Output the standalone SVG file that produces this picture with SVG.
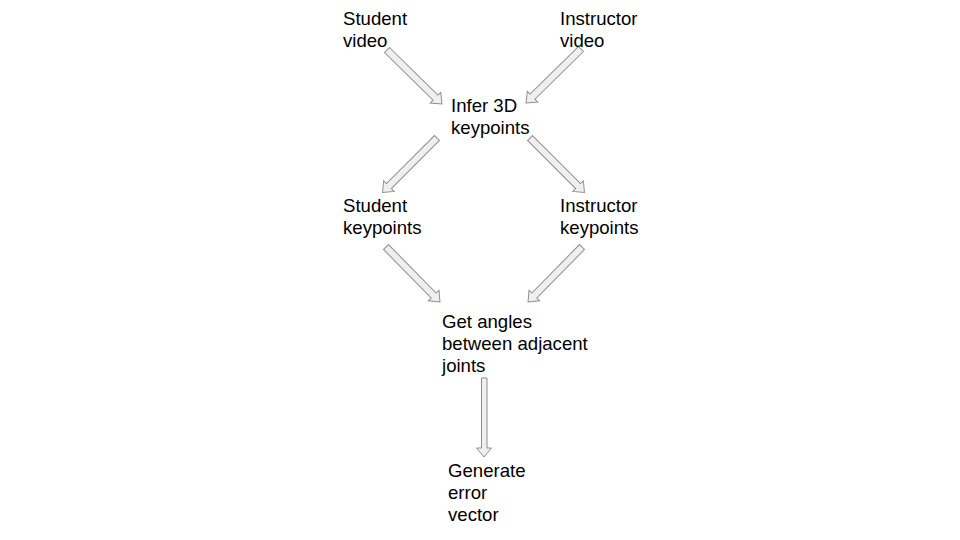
<svg xmlns="http://www.w3.org/2000/svg" width="960" height="540" viewBox="0 0 960 540">
<style>
text{font-family:"Liberation Sans",Arial,sans-serif;font-size:18.6px;fill:#000}
.arr{fill:#efefef;stroke:#8f8f8f;stroke-width:1}
</style>
<defs>
<path id="a" class="arr" d="M0,-3.5 H68 V-7.5 L77,0 L68,7.5 V3.5 H0 Z"/>
</defs>
<rect width="960" height="540" fill="#fff"/>
<g id="connectors">
<use href="#a" transform="translate(387,50) rotate(44.5)"/>
<use href="#a" transform="translate(581,49) rotate(135.5)"/>
<use href="#a" transform="translate(437,138) rotate(135)"/>
<use href="#a" transform="translate(530,138) rotate(45)"/>
<use href="#a" transform="translate(386,247) rotate(45.5)"/>
<use href="#a" transform="translate(582,247) rotate(134.5)"/>
<path class="arr" d="M481.5,378 H487 V448 H491.5 L484,457 L476.5,448 H481.5 Z"/>
</g>
<g id="student-video"><text x="343" y="25">Student</text><text x="343" y="47">video</text></g>
<g id="instructor-video"><text x="560" y="25">Instructor</text><text x="560" y="47">video</text></g>
<g id="infer"><text x="451" y="112">Infer 3D</text><text x="451" y="134">keypoints</text></g>
<g id="student-keypoints"><text x="343" y="212">Student</text><text x="343" y="234">keypoints</text></g>
<g id="instructor-keypoints"><text x="560" y="212">Instructor</text><text x="560" y="234">keypoints</text></g>
<g id="angles"><text x="442" y="328">Get angles</text><text x="442" y="350">between adjacent</text><text x="442" y="372">joints</text></g>
<g id="error"><text x="448" y="477">Generate</text><text x="448" y="499">error</text><text x="448" y="521">vector</text></g>
</svg>
